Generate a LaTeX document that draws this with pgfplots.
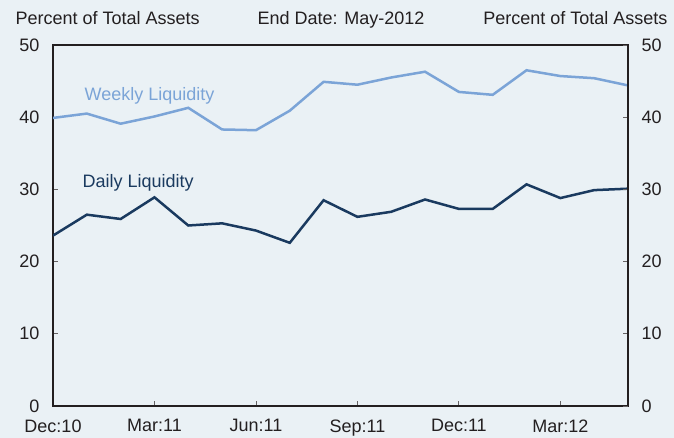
\documentclass[border=0pt]{standalone}
\usepackage{fontspec}
\setmainfont{Liberation Sans}
\usepackage{pgfplots}
\pgfplotsset{compat=1.18}
\definecolor{bg}{HTML}{EAF1F5}
\definecolor{weekly}{HTML}{7BA4D7}
\definecolor{daily}{HTML}{1A3A5F}
\definecolor{txt}{HTML}{231F20}
\newcommand{\lbl}{\fontsize{18bp}{21bp}\selectfont}

\pgfplotsset{
  liq/.style={
    at={(53bp,32bp)}, anchor=south west,
    scale only axis, width=575bp, height=361bp,
    xmin=0, xmax=17, ymin=0, ymax=50,
    ytick={0,10,20,30,40,50},
    tick align=inside, major tick length=5bp,
    tick style={txt!70, line width=0.8bp},
    axis line style={txt, line width=1.6bp},
    tick label style={font=\lbl, text=txt},
    /pgf/number format/assume math mode=true,
  }
}

\begin{document}
\begin{tikzpicture}
\fill[bg] (0,0) rectangle (674bp,438bp);
\useasboundingbox (0,0) rectangle (674bp,438bp);

\node[anchor=base west, font=\lbl, text=txt] at (12bp,413bp) {Percent of Total Assets};
\node[anchor=base, font=\lbl, text=txt] at (341bp,413bp) {End Date: May-2012};
\node[anchor=base east, font=\lbl, text=txt] at (671bp,413bp) {Percent of Total Assets};

\begin{axis}[liq,
    xtick={0,3,6,9,12,15},
    xticklabels={Dec:10,Mar:11,Jun:11,Sep:11,Dec:11,Mar:12},
    xtick pos=lower,
    ytick pos=both, yticklabel pos=left,
    yticklabel style={xshift=-10bp},
    xticklabel style={yshift=-10bp},
]
% Weekly liquidity, Dec 2010 - May 2012
\addplot[weekly, line width=2.5bp] coordinates {
  (0,39.9) (1,40.5) (2,39.1) (3,40.1) (4,41.3) (5,38.3)
  (6,38.2) (7,40.9) (8,44.9) (9,44.5) (10,45.5) (11,46.3)
  (12,43.5) (13,43.1) (14,46.5) (15,45.7) (16,45.4) (17,44.4)
};
% Daily liquidity
\addplot[daily, line width=2.5bp] coordinates {
  (0,23.6) (1,26.5) (2,25.9) (3,28.9) (4,25.0) (5,25.3)
  (6,24.3) (7,22.6) (8,28.5) (9,26.2) (10,26.9) (11,28.6)
  (12,27.3) (13,27.3) (14,30.7) (15,28.8) (16,29.9) (17,30.1)
};
\node[anchor=base west, font=\lbl, text=weekly] at (axis cs:0.83,42.3) {Weekly Liquidity};
\node[anchor=base west, font=\lbl, text=daily] at (axis cs:0.77,30.2) {Daily Liquidity};
\end{axis}

\begin{axis}[liq,
    hide x axis,
    axis y line*=right,
    yticklabel style={xshift=10bp},
]
\end{axis}
\end{tikzpicture}
\end{document}
